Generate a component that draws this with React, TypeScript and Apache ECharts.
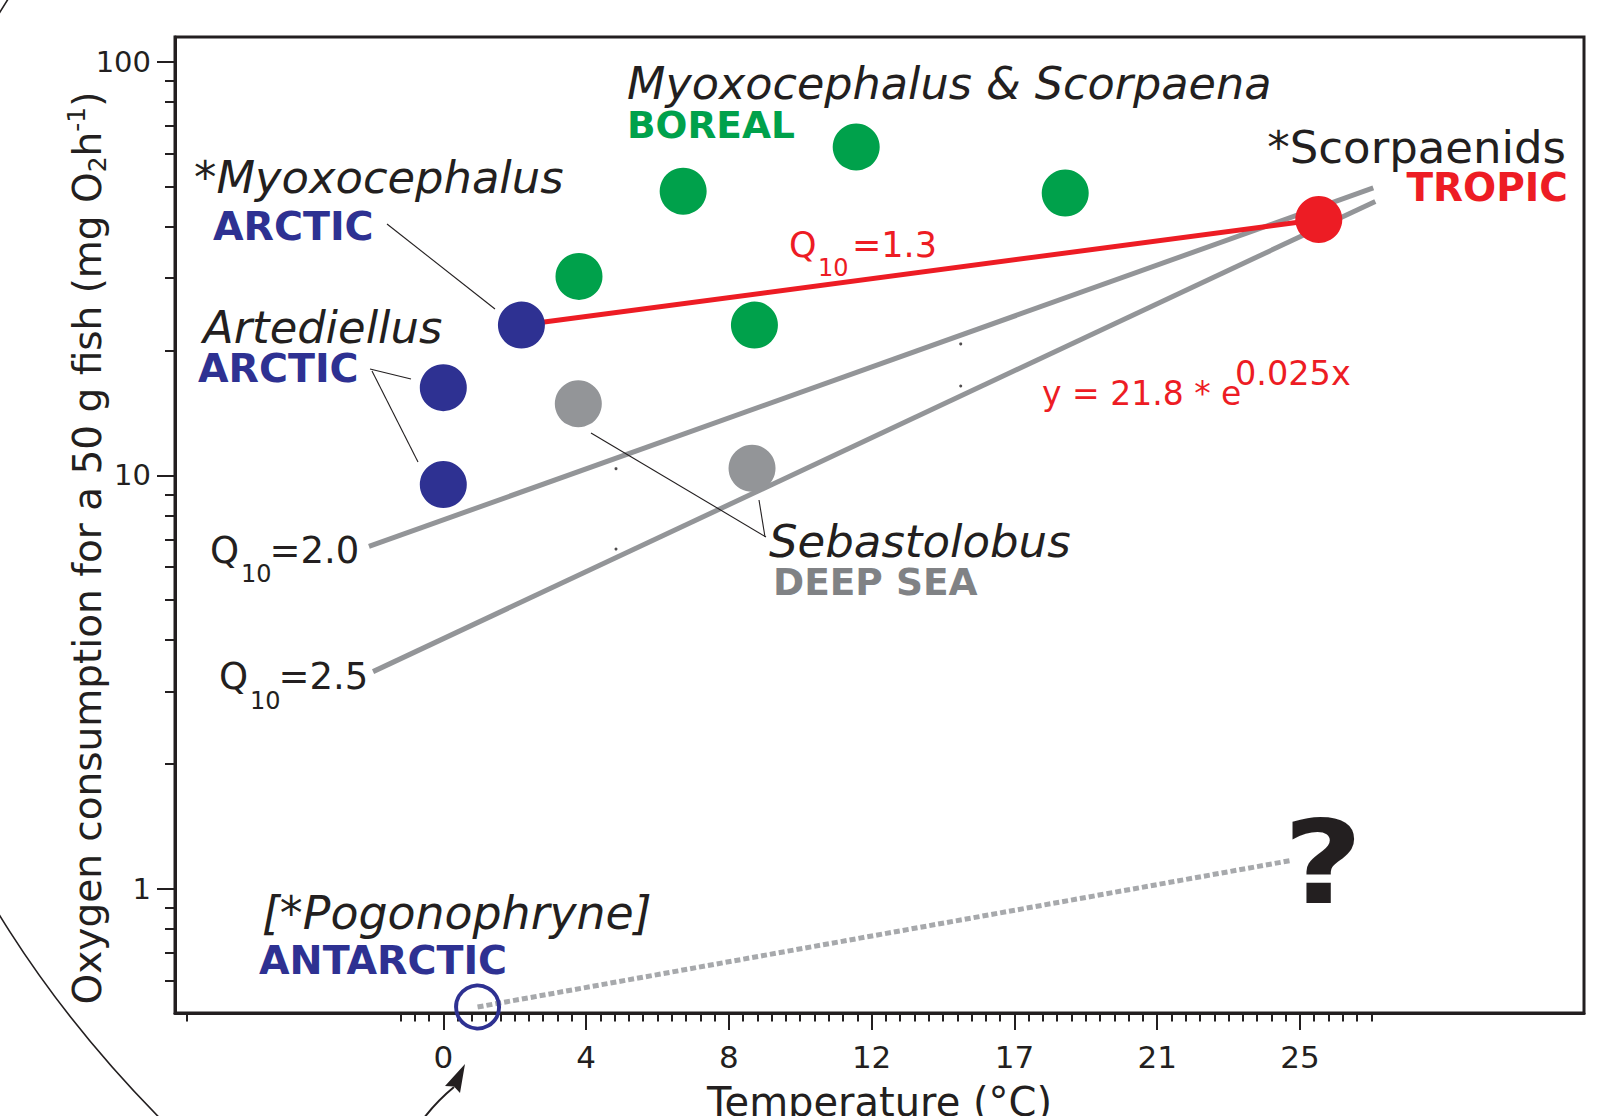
import React, { useEffect, useRef } from "react";
import * as echarts from "echarts";

// ---------- data (temperature °C, oxygen consumption mg O2 h-1) ----------
const arcticPoints = [
  [2.28, 23.1],
  [0, 16.3],
  [0, 9.5],
];
const borealPoints = [
  [3.96, 30.3],
  [7.0, 48.7],
  [12.05, 62.3],
  [18.15, 48.2],
  [9.08, 23.1],
];
const deepSeaPoints = [
  [3.94, 14.9],
  [9.01, 10.4],
];
const tropicPoints = [[25.55, 41.6]];
const antarcticPoints = [[1.0, 0.517]];
const q13Line = [
  [2.28, 23.1],
  [25.55, 41.6],
];
const q20Line = [
  [-2.17, 6.73],
  [27.14, 49.6],
];
const q25Line = [
  [-2.05, 3.35],
  [27.2, 46.0],
];
const antarcticGuessLine = [
  [1.0, 0.517],
  [24.7, 1.168],
];
const strayDots = [
  [15.1, 20.8],
  [15.1, 16.45],
  [5.04, 10.38],
  [5.04, 6.63],
];

// ---------- axes ----------
const xTickValues = [0, 4.1667, 8.3333, 12.5, 16.6667, 20.8333, 25];
const xTickLabels = ["0", "4", "8", "12", "17", "21", "25"];
const xExtent = [-7.83, 33.29];
const xMinorStep = 25 / 60;
const xMinorValues: number[] = [-7.5];
for (let i = -3; i <= 65; i++) if (i % 10 !== 0) xMinorValues.push(i * xMinorStep);

const yTickValues = [1, 10, 100];
const yTickLabels = ["1", "10", "100"];
const yMinorValues = [0.6, 0.7, 0.8, 0.9, 2, 3, 4, 5, 6, 7, 8, 9, 20, 30, 40, 50, 60, 70, 80, 90];
const yExtent = [0.5, 115];

const blue = "#2e3192";
const green = "#00a14b";
const red = "#ed1c24";
const dotGray = "#939598";
const labelGray = "#808285";
const ink = "#231f20";
const FONT = "DejaVu Sans";

const lg = (p: number[]) => [p[0], Math.log10(p[1])];

function txt(
  text: string,
  x: number,
  y: number,
  o: { fontSize: number; italic?: boolean; bold?: boolean; fill?: string; align?: string; scaleX?: number }
) {
  return {
    type: "text",
    x,
    y,
    scaleX: o.scaleX || 1,
    silent: true,
    z: 20,
    style: {
      text,
      fontSize: o.fontSize,
      fontFamily: FONT,
      fontStyle: o.italic ? "italic" : "normal",
      fontWeight: o.bold ? "bold" : "normal",
      fill: o.fill || ink,
      align: o.align || "left",
      verticalAlign: "middle",
    },
  };
}

function seg(x1: number, y1: number, x2: number, y2: number) {
  return {
    type: "line",
    silent: true,
    z: 15,
    shape: { x1, y1, x2, y2 },
    style: { stroke: ink, lineWidth: 1.1 },
  };
}

export default function App() {
  const ref = useRef<HTMLDivElement>(null);

  useEffect(() => {
    if (!ref.current) return;
    const chart = echarts.init(ref.current, null, { renderer: "svg" });

    const xFmt = (v: number) => {
      const i = xTickValues.findIndex((t) => Math.abs(t - v) < 1e-3);
      return i >= 0 ? xTickLabels[i] : "";
    };
    const yFmt = (v: number) => {
      const i = yTickValues.findIndex((t) => Math.abs(Math.log10(t) - v) < 1e-6);
      return i >= 0 ? yTickLabels[i] : "";
    };

    const tickLine = { color: ink, width: 2 };

    const option: any = {
      animation: false,
      backgroundColor: "#ffffff",
      textStyle: { fontFamily: FONT },
      grid: {
        left: 175,
        right: 32,
        top: 37,
        bottom: 103,
        show: true,
        borderColor: ink,
        borderWidth: 3,
        backgroundColor: "transparent",
        containLabel: false,
        outerBoundsMode: "none",
      },
      xAxis: [
        {
          type: "value",
          min: xExtent[0],
          max: xExtent[1],
          position: "bottom",
          axisLine: { show: true, onZero: false, lineStyle: { color: ink, width: 3 } },
          axisTick: { show: true, customValues: xTickValues, length: 17, lineStyle: tickLine },
          axisLabel: {
            customValues: xTickValues,
            formatter: xFmt,
            fontSize: 31,
            color: ink,
            margin: 28,
            fontFamily: FONT,
          },
          splitLine: { show: false },
          name: "Temperature (°C)",
          nameLocation: "middle",
          nameGap: 69,
          nameMoveOverlap: false,
          nameTextStyle: { fontSize: 40, color: ink, fontFamily: FONT },
        },
        {
          type: "value",
          min: xExtent[0],
          max: xExtent[1],
          position: "bottom",
          axisLine: { show: false, onZero: false },
          axisTick: { show: true, customValues: xMinorValues, length: 8.5, lineStyle: tickLine },
          axisLabel: { show: false },
          splitLine: { show: false },
        },
      ],
      yAxis: [
        {
          type: "value",
          min: Math.log10(yExtent[0]),
          max: Math.log10(yExtent[1]),
          position: "left",
          axisLine: { show: true, onZero: false, lineStyle: { color: ink, width: 3 } },
          axisTick: {
            show: true,
            customValues: yTickValues.map((v) => Math.log10(v)),
            length: 18,
            lineStyle: tickLine,
          },
          axisLabel: {
            customValues: yTickValues.map((v) => Math.log10(v)),
            formatter: yFmt,
            fontSize: 29,
            color: ink,
            margin: 24,
            fontFamily: FONT,
          },
          splitLine: { show: false },
          name: "Oxygen consumption for a 50 g fish (mg O{sub|2}h{sup|-1})",
          nameLocation: "middle",
          nameRotate: 90,
          nameGap: 65,
          nameMoveOverlap: false,
          nameTextStyle: {
            fontSize: 39,
            lineHeight: 46,
            color: ink,
            fontFamily: FONT,
            padding: [0, 46, 0, 0],
            rich: {
              sub: { fontSize: 25, lineHeight: 24, verticalAlign: "bottom", color: ink, fontFamily: FONT },
              sup: { fontSize: 25, lineHeight: 24, verticalAlign: "top", color: ink, fontFamily: FONT },
            },
          },
        },
        {
          type: "value",
          min: Math.log10(yExtent[0]),
          max: Math.log10(yExtent[1]),
          position: "left",
          axisLine: { show: false, onZero: false },
          axisTick: {
            show: true,
            customValues: yMinorValues.map((v) => Math.log10(v)),
            length: 10,
            lineStyle: tickLine,
          },
          axisLabel: { show: false },
          splitLine: { show: false },
        },
      ],
      series: [
        {
          name: "Q10=2.0",
          type: "line",
          data: q20Line.map(lg),
          symbol: "none",
          lineStyle: { color: dotGray, width: 5 },
          silent: true,
          z: 2,
        },
        {
          name: "Q10=2.5",
          type: "line",
          data: q25Line.map(lg),
          symbol: "none",
          lineStyle: { color: dotGray, width: 5 },
          silent: true,
          z: 2,
        },
        {
          name: "Antarctic ?",
          type: "line",
          data: antarcticGuessLine.map(lg),
          symbol: "none",
          lineStyle: { color: "#a7a9ac", width: 5, type: [6, 3], cap: "butt" },
          silent: true,
          z: 2,
        },
        {
          name: "Q10=1.3",
          type: "line",
          data: q13Line.map(lg),
          symbol: "none",
          lineStyle: { color: red, width: 5 },
          silent: true,
          z: 3,
        },
        {
          name: "dots",
          type: "scatter",
          data: strayDots.map(lg),
          symbolSize: 3,
          itemStyle: { color: ink },
          silent: true,
          z: 3,
        },
        {
          name: "Boreal",
          type: "scatter",
          data: borealPoints.map(lg),
          symbolSize: 47,
          itemStyle: { color: green, opacity: 1 },
          silent: true,
          z: 4,
        },
        {
          name: "Deep sea",
          type: "scatter",
          data: deepSeaPoints.map(lg),
          symbolSize: 47,
          itemStyle: { color: dotGray, opacity: 1 },
          silent: true,
          z: 4,
        },
        {
          name: "Arctic",
          type: "scatter",
          data: arcticPoints.map(lg),
          symbolSize: 47,
          itemStyle: { color: blue, opacity: 1 },
          silent: true,
          z: 4,
        },
        {
          name: "Tropic",
          type: "scatter",
          data: tropicPoints.map(lg),
          symbolSize: 47,
          itemStyle: { color: red, opacity: 1 },
          silent: true,
          z: 4,
        },
        {
          name: "Antarctic",
          type: "scatter",
          data: antarcticPoints.map(lg),
          symbolSize: 43,
          itemStyle: { color: "rgba(0,0,0,0)", borderColor: blue, borderWidth: 4, opacity: 1 },
          silent: true,
          z: 4,
        },
      ],
      graphic: {
        elements: [
          {
            type: "ellipse",
            silent: true,
            z: 1,
            shape: { cx: 1680, cy: 464, rx: 1813, ry: 1200 },
            style: { fill: "none", stroke: ink, lineWidth: 1.6 },
          },
          {
            type: "bezierCurve",
            silent: true,
            z: 15,
            shape: { x1: 424, y1: 1118, x2: 454, y2: 1087, cpx1: 437, cpy1: 1101 },
            style: { fill: "none", stroke: ink, lineWidth: 2 },
          },
          {
            type: "polygon",
            silent: true,
            z: 15,
            shape: {
              points: [
                [465, 1064],
                [445, 1086],
                [454, 1086.5],
                [460, 1093],
              ],
            },
            style: { fill: ink },
          },
          seg(387, 224, 495, 309),
          seg(370, 369, 411, 379),
          seg(372, 371, 418, 462),
          seg(591, 433, 766, 537),
          seg(759, 500, 765, 537),

          txt("Myoxocephalus & Scorpaena", 627, 83.6, { fontSize: 44.5, italic: true }),
          txt("BOREAL", 627, 125, { fontSize: 37.5, bold: true, fill: green }),
          txt("*Scorpaenids", 1566, 147.8, { fontSize: 45, align: "right" }),
          txt("TROPIC", 1568, 187.8, { fontSize: 39, bold: true, fill: red, align: "right" }),
          txt("*Myoxocephalus", 194, 177.7, { fontSize: 44.8, italic: true }),
          txt("ARCTIC", 213, 225.8, { fontSize: 39.5, bold: true, fill: blue }),
          txt("Artediellus", 203, 327.7, { fontSize: 44.8, italic: true }),
          txt("ARCTIC", 198, 368.2, { fontSize: 39.5, bold: true, fill: blue }),

          txt("Q", 210, 550.5, { fontSize: 37 }),
          txt("10", 241, 574.4, { fontSize: 24 }),
          txt("=2.0", 269.5, 550.5, { fontSize: 37 }),
          txt("Q", 219, 676.5, { fontSize: 37 }),
          txt("10", 250, 701, { fontSize: 24 }),
          txt("=2.5", 278.5, 676.5, { fontSize: 37 }),

          txt("Q", 789, 244.6, { fontSize: 35, fill: red }),
          txt("10", 818, 267.7, { fontSize: 24, fill: red }),
          txt("=1.3", 852, 244.6, { fontSize: 35, fill: red }),

          txt("y = 21.8 * e", 1042, 393.6, { fontSize: 33, fill: red }),
          txt("0.025x", 1235, 373.6, { fontSize: 33.5, fill: red }),

          txt("Sebastolobus", 769, 541.1, { fontSize: 45, italic: true }),
          txt("DEEP SEA", 773, 582, { fontSize: 37.5, bold: true, fill: labelGray }),
          txt("[*Pogonophryne]", 262, 912.5, { fontSize: 45.8, italic: true }),
          txt("ANTARCTIC", 259, 959.8, { fontSize: 39.5, bold: true, fill: blue }),
          txt("?", 1323, 863.2, { fontSize: 115, bold: true, align: "center", scaleX: 1.2 }),
        ],
      },
    };

    chart.setOption(option);
    return () => chart.dispose();
  }, []);

  return (
    <div
      ref={ref}
      style={{ position: "fixed", left: 0, top: 0, width: 1616, height: 1116, background: "#fff" }}
    />
  );
}
